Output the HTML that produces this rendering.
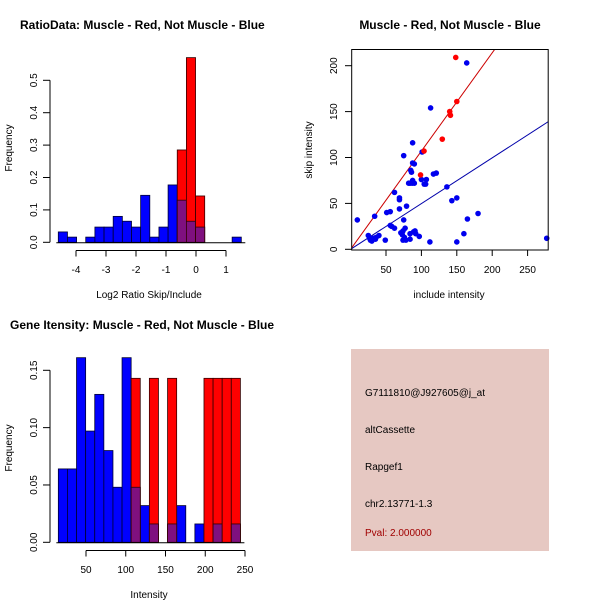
<!DOCTYPE html>
<html><head><meta charset="utf-8"><style>
body{margin:0;background:#fff;}
svg{display:block;font-family:"Liberation Sans",sans-serif;}
</style></head><body>
<svg id="c" width="600" height="600" viewBox="0 0 600 600">
<rect width="600" height="600" fill="#fff"/>
<text x="20" y="29" font-size="12" font-weight="bold">RatioData: Muscle - Red, Not Muscle - Blue</text>
<text x="450" y="29" font-size="12" font-weight="bold" text-anchor="middle">Muscle - Red, Not Muscle - Blue</text>
<text x="10" y="329" font-size="12" font-weight="bold">Gene Itensity: Muscle - Red, Not Muscle - Blue</text>
<text x="149" y="298" font-size="10" text-anchor="middle">Log2 Ratio Skip/Include</text>
<text x="449" y="298" font-size="10" text-anchor="middle">include intensity</text>
<text x="149" y="598" font-size="10" text-anchor="middle">Intensity</text>
<text transform="translate(12,148) rotate(-90)" font-size="10" text-anchor="middle">Frequency</text>
<text transform="translate(312,150) rotate(-90)" font-size="10" text-anchor="middle">skip intensity</text>
<text transform="translate(12,448) rotate(-90)" font-size="10" text-anchor="middle">Frequency</text>
<g id="g1"></g>
<g id="g2"></g>
<g id="g3"></g>
<g>
<rect x="351" y="349" width="198" height="202" fill="#e6c8c2"/>
<text x="365" y="396" font-size="10">G7111810@J927605@j_at</text>
<text x="365" y="433" font-size="10">altCassette</text>
<text x="365" y="470" font-size="10">Rapgef1</text>
<text x="365" y="507" font-size="10">chr2.13771-1.3</text>
<text x="365" y="536" font-size="10" fill="#a00000">Pval: 2.000000</text>
</g>
</svg>
<script>
// Ratio histogram data
const ratioStart = -4.59, ratioBinW = 0.305;
const ratioBlue = [0.032,0.016,0,0.016,0.047,0.047,0.08,0.065,0.047,0.145,0.016,0.047,0.177,0.13,0.065,0.047,0,0,0,0.016];
const ratioRed  = [0,0,0,0,0,0,0,0,0,0,0,0,0,0.285,0.57,0.143,0,0,0,0];
const ratioXTicks = [-4,-3,-2,-1,0,1];
const ratioYTicks = [0,0.1,0.2,0.3,0.4,0.5];
// Intensity histogram data
const intStart = 15.2, intBinW = 11.45;
const intBlue = [0.064,0.064,0.161,0.097,0.129,0.08,0.048,0.161,0.048,0.032,0.016,0,0.016,0.032,0,0.016,0,0.016,0,0.016];
const intRed  = [0,0,0,0,0,0,0,0,0.143,0,0.143,0,0.143,0,0,0,0.143,0.143,0.143,0.143];
const intXTicks = [50,100,150,200,250];
const intYTicks = [0,0.05,0.10,0.15];
// Scatter data
const redX = [148.5,150,140,141,129.5,103.7,98.8];
const redY = [209,161,150,146,120,107,81];
const blueX = [164,113,87.6,75,101,87.6,90,85,86,84,87,90,82,87.6,100,107,104,106,117,121,136,62,143,150,79,69,69,69,51,56,180,165,9.5,34,75,56,58,62,77,160,84,89,91,97,84,74,71,73,76,25,28,32,30,36,40,49,112,150,277,74,27,35,78,92];
const blueY = [203,154,116,102,106,94,93,86,84,72,72,72,72,75,76,76,71,71,82,83,68,62,53,56,47,44,56,54,40,41,39,33,32,36,32,26,25,23,23,17,17,19,20,14,11,10,18,16,13,15,10,12,9,13,15,10,8,8,12,20,12,11,10,17];
const redSlope = 1.07, blueSlope = 0.498;
const scXTicks = [50,100,150,200,250];
const scYTicks = [0,50,100,150,200];

const NS="http://www.w3.org/2000/svg";
function mk(parent,tag,attrs){const e=document.createElementNS(NS,tag);for(const k in attrs)e.setAttribute(k,attrs[k]);parent.appendChild(e);return e;}
function fmt(v,d){return v.toFixed(d);}

function hist(g,start,w,blue,red,xs,ys,xT,yT,yDec,axY,lbY){
  const n=blue.length;
  for(let i=0;i<n;i++){
    const x0=xs(start+i*w),x1=xs(start+(i+1)*w);
    if(blue[i]>0){const r=mk(g,'rect',{x:x0,y:ys(blue[i]),width:x1-x0,height:ys(0)-ys(blue[i]),fill:'#0000ff',stroke:'#000033','stroke-width':0.8});
      
      }
  }
  for(let i=0;i<n;i++){
    const x0=xs(start+i*w),x1=xs(start+(i+1)*w);
    if(red[i]>0){const r=mk(g,'rect',{x:x0,y:ys(red[i]),width:x1-x0,height:ys(0)-ys(red[i]),fill:'#ff0000',stroke:'#330000','stroke-width':0.8});
      
      
      if(blue[i]>0){const m=Math.min(blue[i],red[i]);const p=mk(g,'rect',{x:x0,y:ys(m),width:x1-x0,height:ys(0)-ys(m),fill:'#7f107f',stroke:'#330000','stroke-width':0.8});
        
        }
    }
  }
  const x0=xs(start),x1=xs(start+n*w);
  mk(g,'line',{x1:x0-2,x2:x1+4,y1:ys(0)+0.5,y2:ys(0)+0.5,stroke:'#000'});
  // x axis
  mk(g,'line',{x1:xs(xT[0]),x2:xs(xT[xT.length-1]),y1:axY,y2:axY,stroke:'#000'});
  xT.forEach(t=>{mk(g,'line',{x1:xs(t),x2:xs(t),y1:axY,y2:axY+6,stroke:'#000'});
    const l=mk(g,'text',{x:xs(t),y:lbY,'font-size':10,'text-anchor':'middle'});l.textContent=String(t);
    
    });
  // y axis
  mk(g,'line',{x1:50,x2:50,y1:ys(yT[0]),y2:ys(yT[yT.length-1]),stroke:'#000'});
  yT.forEach(t=>{mk(g,'line',{x1:43,x2:50,y1:ys(t),y2:ys(t),stroke:'#000'});
    const l=mk(g,'text',{transform:`translate(37,${ys(t)}) rotate(-90)`,'font-size':10,'text-anchor':'middle'});l.textContent=fmt(t,yDec);
    
    });
}
// ratio histogram
const rxs=v=>76+(v+4)*30, rys=v=>242.3-v*324;
hist(document.getElementById('g1'),ratioStart,ratioBinW,ratioBlue,ratioRed,rxs,rys,ratioXTicks,ratioYTicks,1,250.5,273);
// intensity histogram
const ixs=v=>86+(v-50)*0.795, iys=v=>542.3-v*1146.7;
hist(document.getElementById('g3'),intStart,intBinW,intBlue,intRed,ixs,iys,intXTicks,intYTicks,2,550.5,573);

// scatter
const g2=document.getElementById('g2');
const sx=v=>350.6+v*0.708, sy=v=>249.3-v*0.918;
const cp=mk(g2,'clipPath',{id:'scclip'});mk(cp,'rect',{x:352,y:49,width:196,height:201});
const rl=mk(g2,'line',{x1:sx(0),y1:sy(0),x2:sx(300),y2:sy(300*redSlope),stroke:'#cc0000','stroke-width':1,'clip-path':'url(#scclip)'});


const bl=mk(g2,'line',{x1:sx(0),y1:sy(0),x2:sx(300),y2:sy(300*blueSlope),stroke:'#0000aa','stroke-width':1,'clip-path':'url(#scclip)'});


blueX.forEach((x,i)=>{const c=mk(g2,'circle',{cx:sx(x),cy:sy(blueY[i]),r:2.8,fill:'#0000ee'});
  
  });
redX.forEach((x,i)=>{const c=mk(g2,'circle',{cx:sx(x),cy:sy(redY[i]),r:2.8,fill:'#ff0000'});
  
  });
mk(g2,'rect',{x:351.7,y:49.5,width:196.5,height:200.5,fill:'none',stroke:'#000'});
scXTicks.forEach(t=>{mk(g2,'line',{x1:sx(t),x2:sx(t),y1:250,y2:256,stroke:'#000'});
  const l=mk(g2,'text',{x:sx(t),y:273,'font-size':10,'text-anchor':'middle'});l.textContent=String(t);
  
  });
scYTicks.forEach(t=>{mk(g2,'line',{x1:345,x2:351.7,y1:sy(t),y2:sy(t),stroke:'#000'});
  const l=mk(g2,'text',{transform:`translate(337,${sy(t)}) rotate(-90)`,'font-size':10,'text-anchor':'middle'});l.textContent=String(t);
  
  });
</script>
</body></html>
